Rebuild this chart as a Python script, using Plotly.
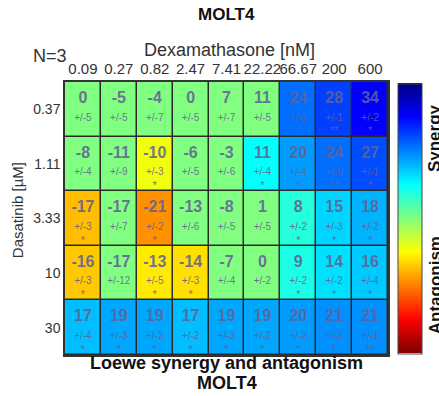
import plotly.graph_objects as go
import numpy as np

dexa_labels = ['0.09', '0.27', '0.82', '2.47', '7.41', '22.22', '66.67', '200', '600']
dasa_labels = ['0.37', '1.11', '3.33', '10', '30']

values = [
    [0, -5, -4, 0, 7, 11, 24, 28, 34],
    [-8, -11, -10, -6, -3, 11, 20, 24, 27],
    [-17, -17, -21, -13, -8, 1, 8, 15, 18],
    [-16, -17, -13, -14, -7, 0, 9, 14, 16],
    [17, 19, 19, 17, 19, 19, 20, 21, 21],
]
errors = [
    [5, 5, 7, 5, 7, 5, 2, 1, 2],
    [4, 9, 3, 5, 6, 4, 4, 0, 1],
    [3, 7, 2, 6, 5, 5, 2, 3, 2],
    [3, 12, 5, 3, 4, 2, 2, 2, 4],
    [4, 3, 2, 2, 3, 2, 2, 2, 1],
]
stars = [
    ['', '', '', '', '', '', '*', '**', '*'],
    ['', '', '*', '', '', '*', '*', '**', '*'],
    ['*', '', '*', '', '', '', '*', '*', '*'],
    ['*', '', '*', '*', '', '', '*', '*', '*'],
    ['*', '*', '*', '*', '*', '*', '*', '*', '**'],
]

V = np.array(values, dtype=float)
S = np.array(stars)
# non-significant cells are drawn with the neutral colour
Z = np.where(S != '', V, 0.0)

nrow, ncol = V.shape
cols, rows = np.meshgrid(np.arange(ncol), np.arange(nrow))
cols = cols.ravel()
rows = rows.ravel()

jet_r = [
    [0.0, 'rgb(128,0,0)'],
    [0.125, 'rgb(255,0,0)'],
    [0.375, 'rgb(255,255,0)'],
    [0.5, 'rgb(128,255,128)'],
    [0.625, 'rgb(0,255,255)'],
    [0.875, 'rgb(0,0,255)'],
    [1.0, 'rgb(0,0,128)'],
]

txt_col = 'rgba(100,96,150,0.88)'
FONT = 'Liberation Sans, Arial, sans-serif'

fig = go.Figure()
fig.add_trace(go.Heatmap(
    z=Z, x=list(range(ncol)), y=list(range(nrow)),
    colorscale=jet_r, zmin=-45, zmax=45,
    xgap=1.5, ygap=1.5, hoverinfo='skip',
    colorbar=dict(
        x=1.031, xanchor='left', xref='paper', xpad=0, ypad=0,
        y=0.5, yanchor='middle', len=0.99, lenmode='fraction',
        thickness=24, thicknessmode='pixels',
        outlinecolor='#444', outlinewidth=1,
        showticklabels=False, ticks='',
    ),
))

fig.add_trace(go.Scatter(
    x=cols, y=rows - 0.19, mode='text',
    text=[str(int(v)) for v in V.ravel()],
    textfont=dict(family=FONT, size=16, color=txt_col, weight='bold'),
    hoverinfo='skip', showlegend=False,
))
fig.add_trace(go.Scatter(
    x=cols, y=rows + 0.16, mode='text',
    text=['+/-' + str(e) for e in np.array(errors).ravel()],
    textfont=dict(family=FONT, size=10, color=txt_col),
    hoverinfo='skip', showlegend=False,
))
fig.add_trace(go.Scatter(
    x=cols, y=rows + 0.41, mode='text',
    text=list(S.ravel()),
    textfont=dict(family=FONT, size=11, color=txt_col),
    hoverinfo='skip', showlegend=False,
))

fig.update_layout(
    width=439, height=396,
    margin=dict(l=65, r=51, t=82, b=41, autoexpand=False),
    paper_bgcolor='white', plot_bgcolor='#2a2a2a',
    font=dict(family=FONT, color='#222'),
    showlegend=False,
    xaxis=dict(
        range=[-0.5, ncol - 0.5], side='top', automargin=False,
        tickvals=list(range(ncol)), ticktext=dexa_labels, tickangle=0,
        tickfont=dict(size=15, color='#333'), ticks='',
        showgrid=False, zeroline=False,
        showline=True, linecolor='#333', linewidth=1.5, mirror=True,
    ),
    yaxis=dict(
        range=[nrow - 0.5, -0.5], automargin=False,
        tickvals=list(range(nrow)), ticktext=dasa_labels,
        tickfont=dict(size=14, color='#333'), ticks='',
        showgrid=False, zeroline=False,
        showline=True, linecolor='#333', linewidth=1.5, mirror=True,
    ),
)

ann = [
    dict(text='<b>MOLT4</b>', x=0.50, y=1.249, size=17),
    dict(text='Dexamathasone [nM]', x=0.51, y=1.117, size=18, color='#333'),
    dict(text='N=3', x=-0.046, y=1.095, size=18, color='#333'),
    dict(text='<b>Loewe synergy and antagonism</b>', x=0.50, y=-0.029, size=18),
    dict(text='<b>MOLT4</b>', x=0.50, y=-0.103, size=18),
]
for a in ann:
    fig.add_annotation(text=a['text'], x=a['x'], y=a['y'], xref='paper', yref='paper',
                       showarrow=False, xanchor='center', yanchor='middle',
                       font=dict(size=a['size'], color=a.get('color', '#111'), family=FONT))

fig.add_annotation(text='Dasatinib [µM]', x=-0.149, y=0.53, xref='paper', yref='paper',
                   showarrow=False, textangle=-90, xanchor='center', yanchor='middle',
                   font=dict(size=15, color='#333', family=FONT))
fig.add_annotation(text='<b>Synergy</b>', x=1.146, y=0.795, xref='paper', yref='paper',
                   showarrow=False, textangle=-90, xanchor='center', yanchor='middle',
                   font=dict(size=17, color='#111', family=FONT))
fig.add_annotation(text='<b>Antagonism</b>', x=1.146, y=0.256, xref='paper', yref='paper',
                   showarrow=False, textangle=-90, xanchor='center', yanchor='middle',
                   font=dict(size=17, color='#111', family=FONT))

fig.write_html('out.html', config={'displayModeBar': False},
               post_script="document.body.style.margin='0';")
